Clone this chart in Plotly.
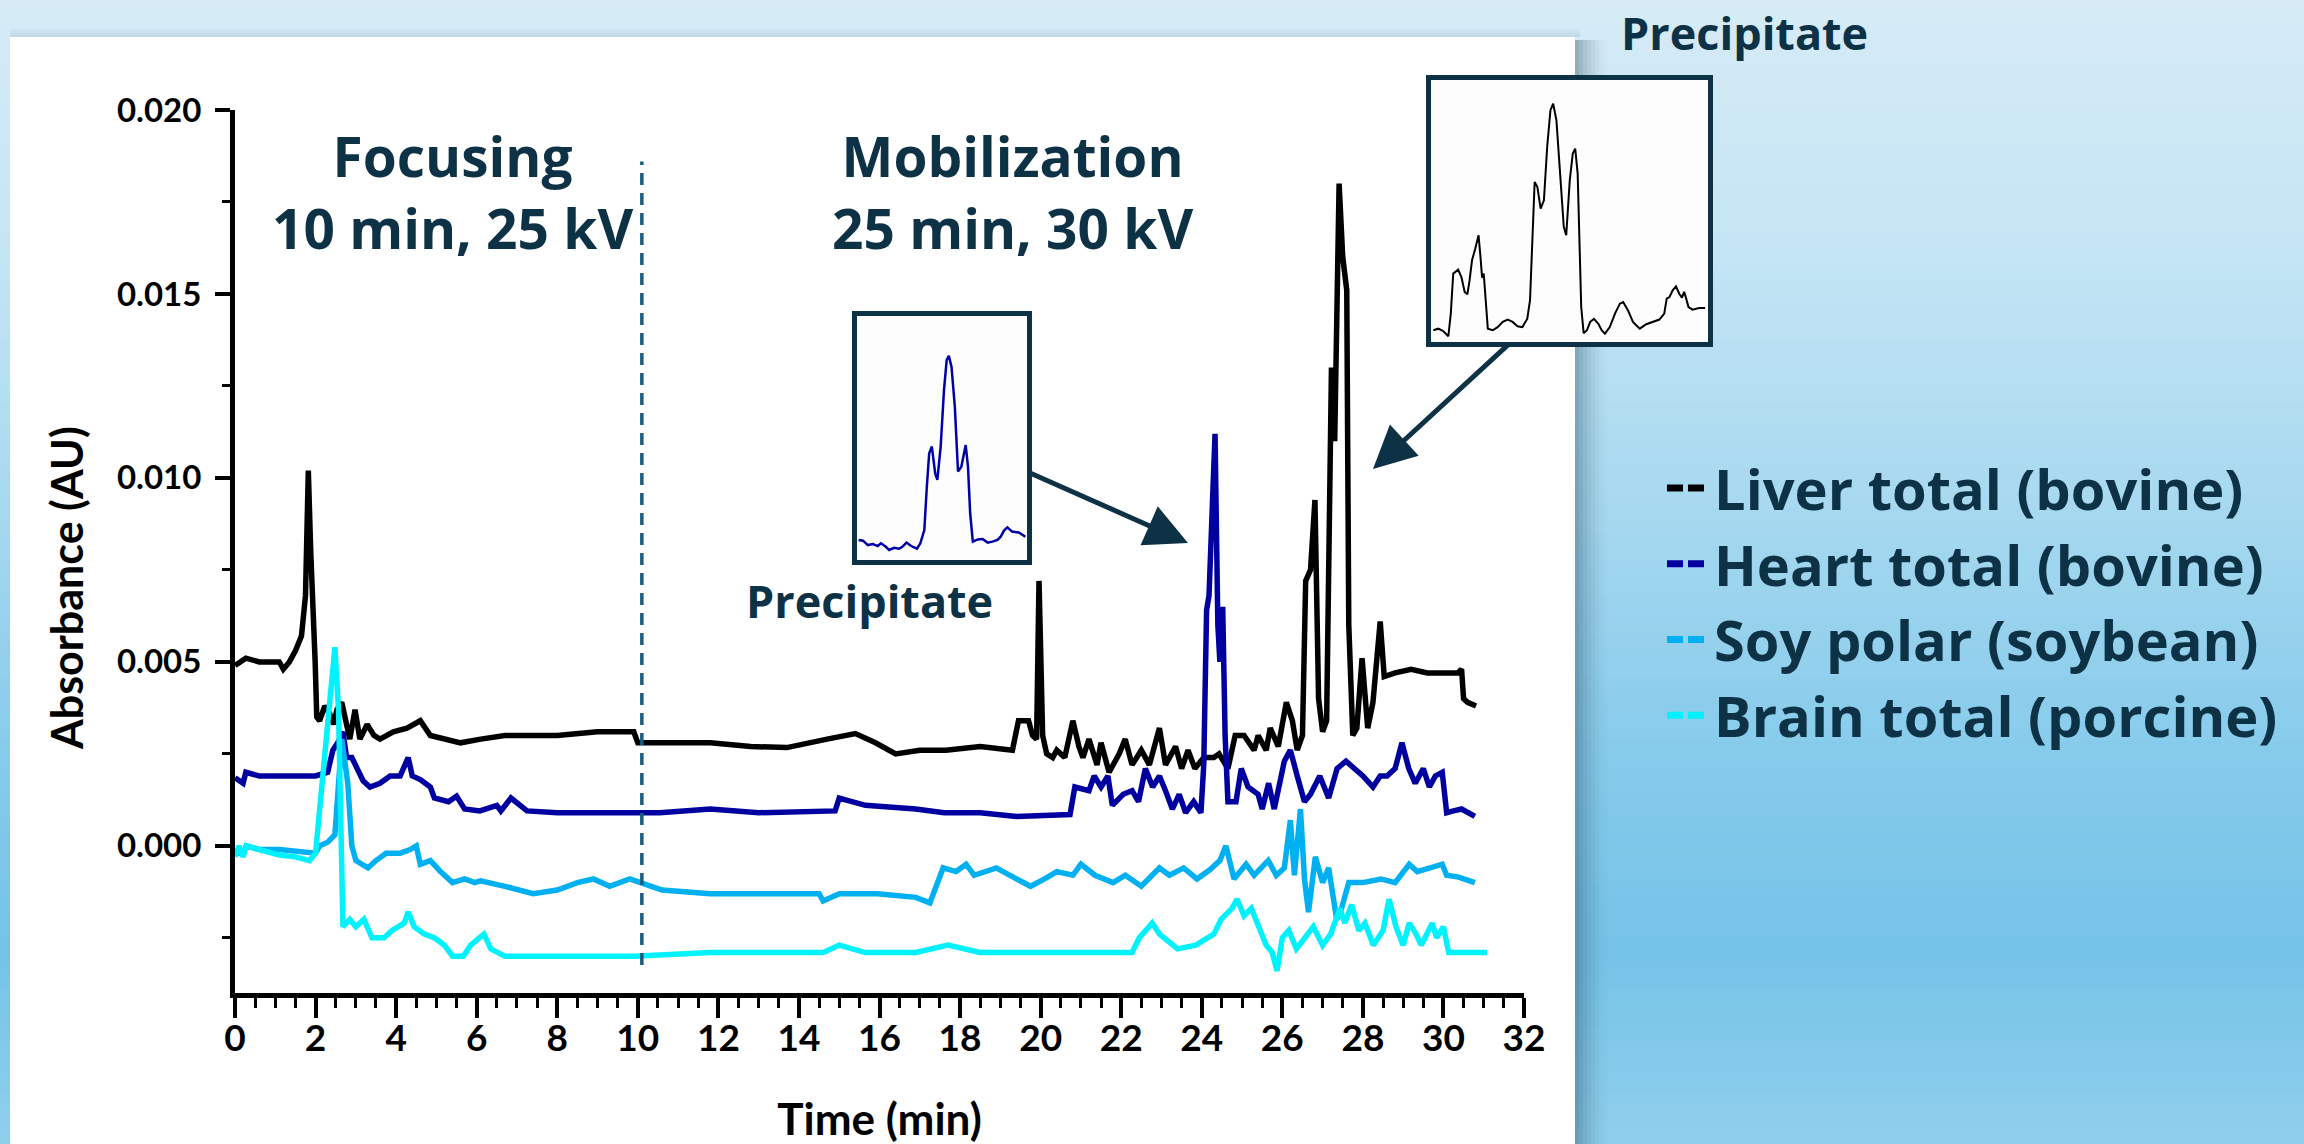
import plotly.graph_objects as go

W, H = 2304, 1144

# ---------------- data ----------------
liver_t = [0.0, 0.27, 0.6, 1.1, 1.2, 1.35, 1.5, 1.65, 1.75, 1.82,
           1.88, 1.94, 1.99, 2.03, 2.1, 2.23, 2.35, 2.45, 2.53, 2.65,
           2.78, 2.85, 2.98, 3.1, 3.28, 3.45, 3.6, 3.93, 4.27, 4.6,
           4.85, 5.27, 5.6, 6.1, 6.7, 7.3, 8.0, 9.0, 9.9, 10.0,
           10.6, 11.8, 12.8, 13.7, 14.7, 15.4, 15.9, 16.4, 17.0, 17.65,
           18.5, 19.3, 19.45, 19.7, 19.8, 19.9, 19.96, 20.05, 20.15, 20.3,
           20.4, 20.6, 20.8, 20.95, 21.05, 21.2, 21.4, 21.5, 21.7, 21.95,
           22.1, 22.27, 22.5, 22.7, 22.95, 23.1, 23.35, 23.5, 23.66, 23.83,
           24.05, 24.3, 24.43, 24.65, 24.83, 25.05, 25.3, 25.4, 25.6, 25.7,
           25.9, 26.1, 26.25, 26.37, 26.5, 26.58, 26.7, 26.81, 26.9, 27.0,
           27.1, 27.22, 27.3, 27.41, 27.5, 27.6, 27.65, 27.75, 27.85, 27.98,
           28.12, 28.25, 28.43, 28.53, 28.8, 29.2, 29.6, 30.0, 30.36, 30.45,
           30.5, 30.6, 30.81]
liver_v = [0.0049, 0.0051, 0.0050, 0.0050, 0.0048, 0.0050, 0.0053, 0.0057, 0.0068, 0.0102,
           0.0080, 0.0067, 0.0050, 0.0035, 0.0034, 0.0038, 0.0036, 0.0033, 0.0037, 0.0039,
           0.0033, 0.0029, 0.0037, 0.0029, 0.0033, 0.0030, 0.0029, 0.0031, 0.0032, 0.0034,
           0.0030, 0.0029, 0.0028, 0.0029, 0.0030, 0.0030, 0.0030, 0.0031, 0.0031, 0.0028,
           0.0028, 0.0028, 0.0027, 0.00267, 0.0029, 0.00305, 0.0028, 0.0025, 0.0026, 0.0026,
           0.0027, 0.0026, 0.0034, 0.0034, 0.0030, 0.0029, 0.0072, 0.0030, 0.0025, 0.0024,
           0.0026, 0.0024, 0.0034, 0.0027, 0.0024, 0.0029, 0.0022, 0.0028, 0.0020, 0.0025,
           0.0029, 0.0022, 0.0026, 0.0022, 0.0032, 0.0022, 0.0027, 0.0021, 0.0026, 0.0021,
           0.0024, 0.0024, 0.0025, 0.0021, 0.0030, 0.0030, 0.0026, 0.0030, 0.0026, 0.0032,
           0.0027, 0.0039, 0.0034, 0.0026, 0.0030, 0.0072, 0.0075, 0.0094, 0.0040, 0.0031,
           0.0034, 0.0130, 0.0110, 0.0180, 0.0160, 0.0151, 0.0060, 0.0030, 0.0032, 0.0051,
           0.0032, 0.0039, 0.0061, 0.0046, 0.0047, 0.0048, 0.0047, 0.0047, 0.0047, 0.0048,
           0.0040, 0.0039, 0.0038]

heart_t = [0.0, 0.2, 0.27, 0.6, 1.0, 1.5, 2.0, 2.3, 2.43, 2.55,
           2.68, 2.77, 2.9, 3.18, 3.35, 3.6, 3.85, 4.1, 4.3, 4.4,
           4.6, 4.85, 4.95, 5.3, 5.5, 5.7, 6.08, 6.5, 6.6, 6.85,
           7.25, 8.0, 9.0, 10.55, 11.8, 13.0, 14.9, 15.0, 15.65, 16.9,
           17.6, 18.5, 19.4, 20.73, 20.85, 21.2, 21.33, 21.5, 21.67, 21.78,
           22.05, 22.27, 22.43, 22.6, 22.78, 22.95, 23.1, 23.27, 23.44, 23.6,
           23.8, 23.98, 24.05, 24.12, 24.18, 24.25, 24.33, 24.4, 24.45, 24.52,
           24.58, 24.65, 24.85, 24.98, 25.15, 25.4, 25.5, 25.66, 25.8, 26.05,
           26.2, 26.37, 26.55, 26.7, 26.93, 27.15, 27.36, 27.58, 27.8, 28.0,
           28.25, 28.43, 28.6, 28.8, 28.97, 29.14, 29.3, 29.5, 29.65, 29.8,
           29.97, 30.08, 30.25, 30.45, 30.78]
heart_v = [0.00185, 0.0017, 0.0020, 0.0019, 0.0019, 0.0019, 0.0019, 0.0020, 0.0026, 0.0028,
           0.0031, 0.0024, 0.0024, 0.00177, 0.0016, 0.0017, 0.0019, 0.0019, 0.0024, 0.0019,
           0.0018, 0.0016, 0.0013, 0.0012, 0.00135, 0.0010, 0.00095, 0.0011, 0.00095, 0.0013,
           0.00095, 0.0009, 0.0009, 0.0009, 0.0010, 0.0009, 0.00095, 0.0013, 0.0011, 0.0010,
           0.0009, 0.0009, 0.0008, 0.00085, 0.0016, 0.0015, 0.0019, 0.0016, 0.0019, 0.0011,
           0.0014, 0.0015, 0.0012, 0.0021, 0.0016, 0.0019, 0.0015, 0.0010, 0.0014, 0.0009,
           0.0012, 0.0009, 0.0022, 0.0064, 0.0068, 0.0090, 0.0112, 0.0060, 0.0050, 0.0065,
           0.0030, 0.0012, 0.0012, 0.0021, 0.0016, 0.0014, 0.0010, 0.0017, 0.0010, 0.0023,
           0.0026, 0.0019, 0.0012, 0.0014, 0.0019, 0.0013, 0.0021, 0.0023, 0.0021, 0.0019,
           0.0016, 0.0019, 0.0019, 0.0021, 0.0028, 0.0021, 0.0017, 0.0021, 0.0016, 0.0019,
           0.0020, 0.0009, 0.00095, 0.0010, 0.0008]

soy_t = [0.0, 0.2, 0.28, 0.6, 1.1, 1.6, 2.0, 2.1, 2.3, 2.48,
         2.58, 2.65, 2.8, 2.9, 3.0, 3.3, 3.5, 3.75, 4.1, 4.35,
         4.5, 4.6, 4.85, 5.1, 5.4, 5.7, 5.95, 6.1, 6.7, 7.4,
         8.0, 8.5, 8.9, 9.3, 9.8, 10.1, 10.6, 11.8, 13.0, 14.5,
         14.6, 15.0, 15.95, 16.9, 17.25, 17.58, 17.9, 18.15, 18.35, 18.9,
         19.4, 19.75, 20.1, 20.4, 20.8, 21.0, 21.35, 21.8, 22.1, 22.5,
         22.95, 23.2, 23.55, 23.88, 24.2, 24.45, 24.6, 24.8, 25.1, 25.3,
         25.65, 25.85, 26.05, 26.2, 26.3, 26.45, 26.55, 26.65, 26.82, 27.0,
         27.15, 27.35, 27.47, 27.65, 28.0, 28.45, 28.8, 29.15, 29.35, 29.7,
         29.97, 30.08, 30.38, 30.78]
soy_v = [-0.0002, -0.0002, 0.0, -0.0001, -0.0001, -0.00015, -0.0002, 0.0, 0.0001, 0.0003,
         0.0020, 0.0029, 0.0017, 0.0, -0.0004, -0.0006, -0.0004, -0.0002, -0.0002, -0.0001,
         0.0, -0.0005, -0.0004, -0.0007, -0.0010, -0.0009, -0.0010, -0.00095, -0.0011, -0.0013,
         -0.0012, -0.0010, -0.0009, -0.0011, -0.0009, -0.0010, -0.0012, -0.0013, -0.0013, -0.0013,
         -0.0015, -0.0013, -0.0013, -0.0014, -0.00155, -0.0006, -0.0007, -0.0005, -0.0008, -0.0006,
         -0.0009, -0.0011, -0.0009, -0.0007, -0.0008, -0.0005, -0.0008, -0.0010, -0.0008, -0.0011,
         -0.0006, -0.0008, -0.0006, -0.0009, -0.00065, -0.0004, 0.0, -0.0009, -0.0005, -0.0008,
         -0.0004, -0.0008, -0.0006, 0.0007, -0.0008, 0.0010, -0.0009, -0.0018, -0.0003, -0.0010,
         -0.0006, -0.0020, -0.0017, -0.0010, -0.0010, -0.0009, -0.0010, -0.0005, -0.0007, -0.0006,
         -0.0005, -0.0008, -0.00085, -0.0010]

brain_t = [0.0, 0.1, 0.2, 0.28, 0.6, 1.1, 1.5, 1.85, 2.0, 2.2,
           2.37, 2.48, 2.57, 2.62, 2.68, 2.85, 3.0, 3.2, 3.4, 3.7,
           3.9, 4.2, 4.3, 4.45, 4.7, 4.95, 5.2, 5.4, 5.67, 5.85,
           6.18, 6.35, 6.7, 7.4, 8.0, 9.9, 11.8, 13.5, 14.6, 15.0,
           15.65, 16.9, 17.7, 18.5, 20.0, 21.5, 22.27, 22.45, 22.77, 22.95,
           23.2, 23.4, 23.85, 24.3, 24.48, 24.75, 24.88, 25.05, 25.23, 25.4,
           25.6, 25.75, 25.87, 26.0, 26.16, 26.35, 26.55, 26.77, 27.0, 27.2,
           27.43, 27.55, 27.72, 27.9, 28.05, 28.26, 28.5, 28.65, 28.82, 29.0,
           29.15, 29.32, 29.45, 29.72, 29.83, 30.0, 30.13, 30.47, 31.08]
brain_v = [-0.0003, 0.0, -0.0003, 0.0, -0.0001, -0.00025, -0.0003, -0.0004, -0.0002, 0.0020,
           0.0042, 0.0054, 0.0037, 0.0, -0.0022, -0.0020, -0.0022, -0.0020, -0.0025, -0.0025,
           -0.0023, -0.0021, -0.0018, -0.0022, -0.0024, -0.0025, -0.0027, -0.0030, -0.0030, -0.0027,
           -0.0024, -0.0028, -0.0030, -0.0030, -0.0030, -0.0030, -0.0029, -0.0029, -0.0029, -0.0027,
           -0.0029, -0.0029, -0.0027, -0.0029, -0.0029, -0.0029, -0.0029, -0.0025, -0.0021, -0.0024,
           -0.0026, -0.0028, -0.0027, -0.0024, -0.0020, -0.0017, -0.00145, -0.0019, -0.0017, -0.0022,
           -0.0027, -0.0029, -0.0034, -0.0025, -0.0023, -0.0028, -0.0025, -0.0022, -0.0027, -0.0024,
           -0.0017, -0.0021, -0.0016, -0.0023, -0.0021, -0.0027, -0.0023, -0.00145, -0.0022, -0.0027,
           -0.0021, -0.0024, -0.0027, -0.0021, -0.0025, -0.0022, -0.0029, -0.0029, -0.0029]

series_names = ["Liver total (bovine)", "Heart total (bovine)",
                "Soy polar (soybean)", "Brain total (porcine)"]
series_colors = ["#000000", "#0000a0", "#00b0f0", "#00f2fc"]

# inset traces: relative position (% of inset width) and relative height (% of inset height)
heart_inset_x = [0, 2.6, 5.5, 8.5, 11.4, 13.4, 16.3, 18.3, 21.3, 24.2, 26.2, 28.7, 31.5, 35.0, 37.0,
                 39.4, 40.9, 42.3, 43.9, 45.9, 47.2, 49.2, 51.2, 52.8, 54.1, 55.7, 57.7, 59.6, 61.6,
                 64.2, 65.6, 66.9, 68.5, 71.5, 74.4, 77.4, 80.3, 83.3, 85.2, 87.2, 89.2, 92.1, 96.1, 100]
heart_inset_y = [8.2, 7.9, 6.1, 6.5, 5.7, 6.8, 5.4, 4.1, 5.0, 4.6, 5.4, 7.1, 5.7, 4.6, 6.8,
                 12.2, 29.9, 43.5, 46.3, 35.4, 32.7, 46.3, 69.4, 81.6, 83.3, 78.9, 62.6, 36.1, 38.1,
                 46.9, 38.1, 19.0, 7.5, 8.4, 8.6, 7.1, 7.5, 8.2, 9.5, 12.0, 13.3, 11.6, 11.2, 9.5]

liver_inset_x = [0, 1.8, 3.6, 5.5, 6.4, 7.3, 9.1, 10.3, 11.5, 12.5, 13.3, 14.2, 15.4, 16.6, 17.3,
                 17.9, 18.5, 19.4, 20.0, 21.8, 23.6, 25.5, 27.3, 29.1, 30.9, 32.7, 34.5, 35.5, 36.4,
                 37.2, 38.2, 39.4, 40.6, 41.8, 43.0, 44.0, 45.2, 46.7, 47.9, 48.8, 50.1, 51.2, 52.1,
                 53.0, 53.7, 54.3, 55.2, 56.4, 57.6, 59.0, 60.6, 61.8, 63.0, 64.8, 66.7, 68.5, 69.7,
                 71.5, 73.3, 75.8, 78.2, 80.6, 83.0, 84.8, 85.7, 86.7, 87.9, 89.1, 90.3, 91.3, 92.1,
                 92.7, 93.7, 95.2, 97.6, 99.8]
liver_inset_y = [4.5, 5.1, 4.2, 2.2, 10.9, 26.2, 27.7, 24.9, 19.2, 18.3, 23.6, 31.3, 35.8, 40.9, 32.6,
                 24.6, 26.2, 13.4, 5.1, 4.5, 5.7, 7.7, 8.6, 7.7, 6.0, 5.7, 8.9, 16.0, 39.0,
                 61.3, 59.4, 51.1, 54.3, 74.7, 88.8, 91.3, 84.9, 61.9, 44.1, 40.9, 61.9, 72.2, 74.1,
                 64.5, 39.0, 13.4, 3.4, 4.5, 7.7, 8.9, 7.0, 4.5, 3.2, 5.7, 10.9, 14.7, 15.3,
                 12.1, 7.7, 5.1, 6.8, 7.7, 8.6, 10.9, 16.6, 17.2, 19.8, 21.3, 18.5, 17.0, 19.2,
                 17.2, 13.4, 12.4, 13.0, 13.0]

x_ticks_major = 2
y_ticks_major = 0.005

# ---------------- helpers ----------------
def px(X):
    return X / W


def py(Y):
    return 1 - Y / H


TEAL = "#0d3246"
fig = go.Figure()

for name, t, v, c in zip(series_names, [liver_t, heart_t, soy_t, brain_t],
                         [liver_v, heart_v, soy_v, brain_v], series_colors):
    fig.add_trace(go.Scatter(x=t, y=v, mode="lines", name=name, showlegend=False,
                             line=dict(color=c, width=5.5)))

# legend entries (dashed symbol like the reference)
for name, c in zip(series_names, series_colors):
    fig.add_trace(go.Scatter(x=[None], y=[None], mode="lines", name=name,
                             line=dict(color=c, width=7, dash="16px,5px")))

fig.add_trace(go.Scatter(x=heart_inset_x, y=heart_inset_y, xaxis="x2", yaxis="y2",
                         mode="lines", showlegend=False, line=dict(color="#0000a8", width=2.5)))
fig.add_trace(go.Scatter(x=liver_inset_x, y=liver_inset_y, xaxis="x3", yaxis="y3",
                         mode="lines", showlegend=False, line=dict(color="#000000", width=2)))

# ---------------- background ----------------
shapes = []
anchors = [(0, (214, 235, 246)), (250, (196, 229, 244)), (500, (168, 217, 240)),
           (750, (135, 203, 235)), (950, (117, 195, 232)), (1144, (143, 207, 236))]


def grad(Y):
    for (y0, c0), (y1, c1) in zip(anchors[:-1], anchors[1:]):
        if y0 <= Y <= y1:
            f = (Y - y0) / (y1 - y0)
            return tuple(int(round(a + (b - a) * f)) for a, b in zip(c0, c1))
    return anchors[-1][1]


step = 13
for Y in range(0, H, step):
    c = grad(Y + step / 2)
    shapes.append(dict(type="rect", xref="paper", yref="paper", layer="below",
                       x0=0, x1=1, y0=py(Y + step + 1), y1=py(Y),
                       fillcolor="rgb(%d,%d,%d)" % c, line=dict(width=0)))

# card shadow (right and top)
for i in range(8):
    a = 0.38 * (1 - i / 8) ** 1.6
    shapes.append(dict(type="rect", xref="paper", yref="paper", layer="below",
                       x0=px(1575 + i * 4), x1=px(1579 + i * 4), y0=0, y1=py(40),
                       fillcolor="rgba(40,75,95,%.3f)" % a, line=dict(width=0)))
for i in range(4):
    a = 0.10 * (1 - i / 4)
    shapes.append(dict(type="rect", xref="paper", yref="paper", layer="below",
                       x0=px(10), x1=px(1580), y0=py(37 - 2 * i), y1=py(35 - 2 * i),
                       fillcolor="rgba(40,75,95,%.3f)" % a, line=dict(width=0)))
# white card
shapes.append(dict(type="rect", xref="paper", yref="paper", layer="below",
                   x0=px(10), x1=px(1575), y0=0, y1=py(37),
                   fillcolor="#ffffff", line=dict(width=0)))

# inset boxes
for (X0, Y0, X1, Y1) in [(852, 311, 1032, 565), (1426, 75, 1713, 347)]:
    shapes.append(dict(type="rect", xref="paper", yref="paper", layer="below",
                       x0=px(X0), x1=px(X1), y0=py(Y1), y1=py(Y0),
                       fillcolor="#fdfdfd", line=dict(width=0)))
    shapes.append(dict(type="rect", xref="paper", yref="paper", layer="above",
                       x0=px(X0 + 2.5), x1=px(X1 - 2.5), y0=py(Y1 - 2.5), y1=py(Y0 + 2.5),
                       fillcolor="rgba(0,0,0,0)", line=dict(color=TEAL, width=5)))

# phase separator
shapes.append(dict(type="line", xref="x", yref="y", layer="above",
                   x0=10.1, x1=10.1, y0=-0.00324, y1=0.0186,
                   line=dict(color="#1d5c80", width=3.5, dash="12px,8px")))

# ---------------- annotations ----------------
ann_font = dict(family="Open Sans", size=55, color=TEAL, weight="bold")
prec_font = dict(family="Open Sans", size=45, color=TEAL, weight="bold")
annotations = [
    dict(text="Focusing<br>10 min, 25 kV", x=px(452), y=py(192), xref="paper", yref="paper",
         showarrow=False, font=ann_font, xanchor="center", yanchor="middle"),
    dict(text="Mobilization<br>25 min, 30 kV", x=px(1012), y=py(192), xref="paper", yref="paper",
         showarrow=False, font=ann_font, xanchor="center", yanchor="middle"),
    dict(text="Precipitate", x=px(869), y=py(600), xref="paper", yref="paper", showarrow=False,
         font=prec_font, xanchor="center", yanchor="middle"),
    dict(text="Precipitate", x=px(1744), y=py(1), xref="paper", yref="paper", showarrow=False,
         font=prec_font, xanchor="center", yanchor="top", borderpad=0),
    dict(text="Absorbance (AU)", x=px(66), y=py(588), xref="paper", yref="paper",
         showarrow=False, textangle=-90, xanchor="center", yanchor="middle",
         font=dict(family="Lato", size=43, color="black", weight="bold")),
    dict(text="", x=px(1188), y=py(543), xref="paper", yref="paper", showarrow=True,
         ax=-160, ay=-71, arrowhead=2, arrowsize=1.7, arrowwidth=5, arrowcolor=TEAL, standoff=0),
    dict(text="", x=px(1373), y=py(469), xref="paper", yref="paper", showarrow=True,
         ax=137, ay=-126, arrowhead=2, arrowsize=1.7, arrowwidth=5, arrowcolor=TEAL, standoff=0),
]

tick_font_x = dict(family="Lato", size=37, color="black", weight="bold")
tick_font_y = dict(family="Lato", size=33, color="black", weight="bold")
title_font = dict(family="Lato", size=44, color="black", weight="bold")

fig.update_layout(
    width=W, height=H, margin=dict(l=0, r=0, t=0, b=0, autoexpand=False),
    paper_bgcolor="#d5eaf6", plot_bgcolor="rgba(0,0,0,0)",
    shapes=shapes, annotations=annotations, hovermode=False,
    xaxis=dict(domain=[px(235), px(1524)], range=[0, 32], tick0=0, dtick=x_ticks_major,
               showline=True, linewidth=5, linecolor="black", ticks="outside", ticklen=20,
               tickwidth=4, tickcolor="black", showgrid=False, zeroline=False, automargin=False,
               minor=dict(dtick=0.5, ticks="outside", ticklen=10, tickwidth=3, tickcolor="black"),
               tickfont=tick_font_x, ticklabelstandoff=-11,
               title=dict(text="Time (min)", font=title_font, standoff=53)),
    yaxis=dict(domain=[py(993), py(110)], range=[-0.004, 0.020], tick0=0, dtick=y_ticks_major,
               tickformat=".3f", showline=True, linewidth=5, linecolor="black",
               ticks="outside", ticklen=15, tickwidth=4, tickcolor="black", automargin=False,
               showgrid=False, zeroline=False, ticklabelstandoff=7,
               minor=dict(dtick=0.0025, ticks="outside", ticklen=8, tickwidth=3, tickcolor="black"),
               tickfont=tick_font_y),
    xaxis2=dict(domain=[px(857), px(1027)], range=[-1, 101], visible=False, anchor="y2"),
    yaxis2=dict(domain=[py(560), py(315)], range=[0, 100], visible=False, anchor="x2"),
    xaxis3=dict(domain=[px(1432), px(1707)], range=[-0.5, 100.5], visible=False, anchor="y3"),
    yaxis3=dict(domain=[py(342), py(81)], range=[0, 100], visible=False, anchor="x3"),
    legend=dict(x=px(1662), xanchor="left", y=py(445), yanchor="top", itemwidth=42,
                font=dict(family="Open Sans", size=56, color=TEAL, weight="bold"),
                bgcolor="rgba(0,0,0,0)", borderwidth=0, tracegroupgap=0),
)

fig.write_html(
    "out.html",
    post_script="document.body.style.margin='0';document.body.style.padding='0';"
                "document.documentElement.style.overflow='hidden';",
)
